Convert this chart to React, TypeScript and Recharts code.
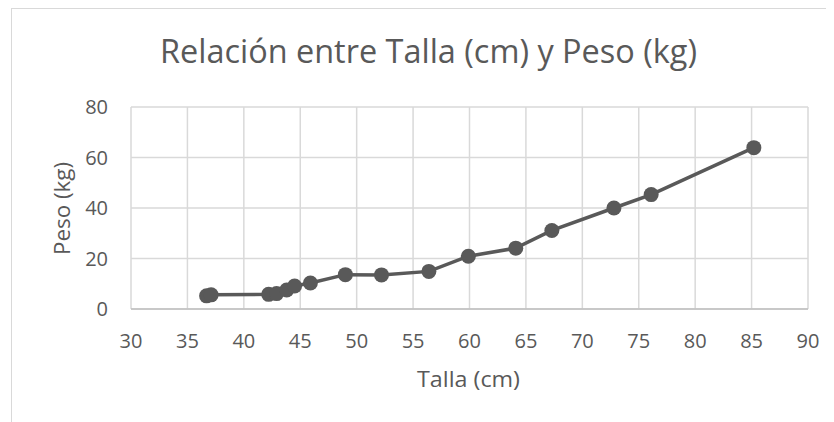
import { LineChart, Line, XAxis, YAxis, CartesianGrid } from 'recharts';

const talla = [36.7, 37.1, 42.2, 42.9, 43.8, 44.5, 45.9, 49.0, 52.2, 56.4, 59.9, 64.1, 67.3, 72.8, 76.1, 85.2];
const peso = [5.2, 5.6, 5.8, 6.1, 7.5, 9.1, 10.3, 13.6, 13.5, 14.9, 20.9, 24.1, 31.1, 40.0, 45.3, 63.9];

const xTicks = [30, 35, 40, 45, 50, 55, 60, 65, 70, 75, 80, 85, 90];
const yTicks = [0, 20, 40, 60, 80];

const title = 'Relación entre Talla (cm) y Peso (kg)';
const xTitle = 'Talla (cm)';
const yTitle = 'Peso (kg)';

const data = talla.map((t, i) => ({ talla: t, peso: peso[i] }));

const textColor = '#595959';
const font = '"Open Sans", sans-serif';

const App = () => {
  return (
    <div style={{ position: 'relative', width: 826, height: 414, fontFamily: font }}>
      <div
        style={{
          position: 'absolute',
          left: 3,
          top: 0,
          width: 823,
          height: 414,
          borderLeft: '1px solid #d9d9d9',
          borderTop: '1px solid #d9d9d9',
          boxSizing: 'border-box',
        }}
      />
      <div style={{ position: 'absolute', left: 0, top: 0 }}>
        <LineChart width={826} height={414} data={data} margin={{ top: 99, right: 26, left: 0, bottom: 73 }}>
          <CartesianGrid stroke="#d9d9d9" strokeWidth={1.5} />
          <XAxis
            type="number"
            dataKey="talla"
            domain={[30, 90]}
            ticks={xTicks}
            interval={0}
            height={40}
            tickLine={false}
            tickSize={0}
            tickMargin={25}
            axisLine={{ stroke: '#bfbfbf', strokeWidth: 1.5 }}
            tick={{ fill: textColor, fontSize: 20, fontFamily: font }}
          />
          <YAxis
            type="number"
            domain={[0, 80]}
            ticks={yTicks}
            interval={0}
            width={123}
            tickLine={false}
            tickSize={0}
            tickMargin={23}
            axisLine={false}
            tick={{ fill: textColor, fontSize: 20, fontFamily: font }}
          />
          <Line
            type="linear"
            dataKey="peso"
            stroke="#595959"
            strokeWidth={3.5}
            dot={{ r: 7.5, fill: '#595959', stroke: 'none' }}
            activeDot={false}
            isAnimationActive={false}
          />
        </LineChart>
      </div>
      <svg width={826} height={414} style={{ position: 'absolute', left: 0, top: 0, pointerEvents: 'none' }}>
        <text
          x={420.5}
          y={55}
          textAnchor="middle"
          fontSize={32}
          fill={textColor}
          fontFamily={font}
          textLength={537}
          lengthAdjust="spacingAndGlyphs"
        >
          {title}
        </text>
        <text
          x={460.5}
          y={378.7}
          textAnchor="middle"
          fontSize={22}
          fill={textColor}
          fontFamily={font}
          textLength={103}
          lengthAdjust="spacingAndGlyphs"
        >
          {xTitle}
        </text>
        <text
          x={61.5}
          y={200.5}
          textAnchor="middle"
          fontSize={22}
          fill={textColor}
          fontFamily={font}
          textLength={93}
          lengthAdjust="spacingAndGlyphs"
          transform="rotate(-90, 61.5, 200.5)"
        >
          {yTitle}
        </text>
      </svg>
    </div>
  );
};

export default App;
